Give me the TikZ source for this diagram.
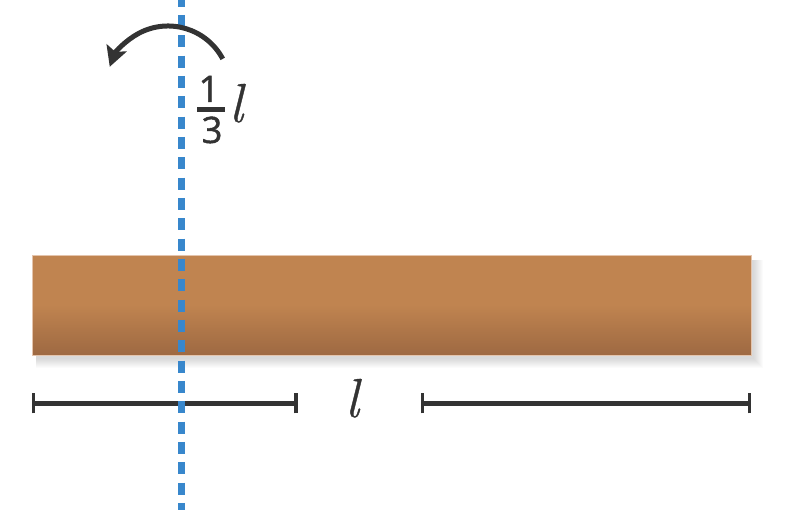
\documentclass[tikz,border=0pt]{standalone}
\usepackage{fontspec}
\newfontfamily\digitfont[FakeBold=1.2]{Open Sans}
\newfontfamily\ellfont[FakeBold=0.6]{Latin Modern Roman}
\usetikzlibrary{arrows.meta}
\definecolor{rodtop}{RGB}{192,132,80}
\definecolor{rodbot}{RGB}{158,105,66}
\definecolor{rodedge}{RGB}{228,196,172}
\definecolor{axisblue}{RGB}{56,135,204}
\definecolor{ink}{RGB}{51,51,51}
\tikzset{
  dimline/.style={ink, line width=4.5pt},
  dimtick/.style={ink, line width=3.5pt},
  rotarrow/.style={ink, line width=5pt, -{Stealth[length=20pt,width=21pt,inset=4pt]}},
  axisline/.style={axisblue, line width=7pt, dash pattern=on 12pt off 8.33pt, dash phase=5.33pt},
  biglabel/.style={inner sep=0pt, ink, font=\ellfont\fontsize{55}{60}\selectfont\itshape},
  digit/.style={inner sep=0pt, ink, font=\digitfont\fontsize{36.5}{40}\selectfont},
}
\begin{document}
\begin{tikzpicture}[x=1pt,y=1pt]
\useasboundingbox (0,0) rectangle (794,510);
% shadow of the rod
\foreach \i in {0,...,9}{
  \fill[black,opacity=0.017] (36,{151-\i}) rectangle ({754+\i},250);
}
% rod
\fill[rodtop] (32,205) rectangle (751,255);
\shade[top color=rodtop, bottom color=rodbot] (32,155) rectangle (751,205.5);
\draw[rodedge, line width=0.8pt] (32,155) rectangle (751,255);
\node[inner sep=0pt, minimum width=719pt, minimum height=100pt] (rod) at (391.5,205) {};
% dimension line
\coordinate (dA) at (33.3,106.5);
\coordinate (dB) at (296,106.5);
\coordinate (dC) at (422.5,106.5);
\coordinate (dD) at (749.7,106.5);
\draw[dimline] (dA) -- (dB);
\draw[dimline] (dC) -- (dD);
\foreach \p in {dA,dB,dC,dD}{
  \draw[dimtick] ([yshift=-10pt]\p) -- ([yshift=10pt]\p);
}
\node[biglabel, anchor=base] (len) at (352,93) {l};
% rotation axis
\coordinate (axtop) at (181.5,510);
\coordinate (axbot) at (181.5,0);
\draw[axisline] (axtop) -- (axbot);
% rotation arrow
\coordinate (arcstart) at ({168+62*cos(28)},{422+62*sin(28)});
\draw[rotarrow] (arcstart) arc[start angle=28, end angle=160, radius=62];
% fraction label 1/3 l
\node[digit, anchor=base] (num) at (209,408) {1};
\node[digit, anchor=base] (den) at (212,367) {3};
\coordinate (barL) at (197,400.5);
\coordinate (barR) at (225,400.5);
\draw[ink, line width=4.2pt] (barL) -- (barR);
\node[biglabel, anchor=base] (fl) at (236,388) {l};
\end{tikzpicture}
\end{document}
